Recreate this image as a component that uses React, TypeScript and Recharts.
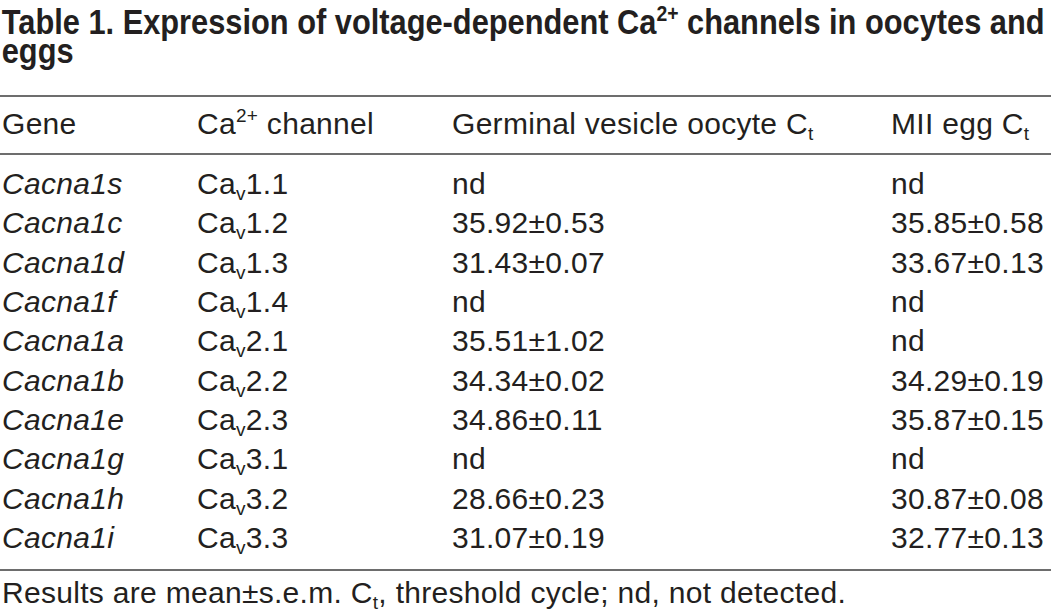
import React from 'react';
import { ScatterChart, Scatter, XAxis, YAxis } from 'recharts';

// table values
const genes = [
  'Cacna1s', 'Cacna1c', 'Cacna1d', 'Cacna1f', 'Cacna1a',
  'Cacna1b', 'Cacna1e', 'Cacna1g', 'Cacna1h', 'Cacna1i',
];
const channels = ['1.1', '1.2', '1.3', '1.4', '2.1', '2.2', '2.3', '3.1', '3.2', '3.3'];
const gvMean = [null, 35.92, 31.43, null, 35.51, 34.34, 34.86, null, 28.66, 31.07];
const gvSem = [null, 0.53, 0.07, null, 1.02, 0.02, 0.11, null, 0.23, 0.19];
const miiMean = [null, 35.85, 33.67, null, null, 34.29, 35.87, null, 30.87, 32.77];
const miiSem = [null, 0.58, 0.13, null, null, 0.19, 0.15, null, 0.08, 0.13];

const W = 1051;
const H = 612;
const COL_X = { gene: 2, channel: 197, gv: 452, mii: 891 };
const FONT = '"Liberation Sans", Arial, Helvetica, sans-serif';
const INK = '#231f20';
const FS = 30;
const SMALL = 19;
const TRACK = 0.3;
const TITLE_FS = 35;
const TITLE_SQUEEZE = 0.88; // title type is condensed

const fmt = (m: number | null, s: number | null) =>
  m == null || s == null ? 'nd' : `${m.toFixed(2)}±${s.toFixed(2)}`;

const geneCells = genes.map((g, i) => ({ x: COL_X.gene, row: i, label: g }));
const channelCells = channels.map((c, i) => ({ x: COL_X.channel, row: i, label: c }));
const gvCells = gvMean.map((m, i) => ({ x: COL_X.gv, row: i, label: fmt(m, gvSem[i]) }));
const miiCells = miiMean.map((m, i) => ({ x: COL_X.mii, row: i, label: fmt(m, miiSem[i]) }));

const textProps = { fontFamily: FONT, fontSize: FS, fill: INK, letterSpacing: TRACK };

const PlainCell = (props: any) => (
  <text x={props.cx} y={props.cy} {...textProps}>{props.payload.label}</text>
);
const GeneCell = (props: any) => (
  <text x={props.cx} y={props.cy} {...textProps} fontStyle="italic">{props.payload.label}</text>
);
const ChannelCell = (props: any) => (
  <text x={props.cx} y={props.cy} {...textProps}>
    Ca<tspan fontSize={SMALL} dy={6}>v</tspan>
    <tspan dy={-6}>{props.payload.label}</tspan>
  </text>
);

const Rule = ({ y }: { y: number }) => (
  <line x1={0} x2={W} y1={y} y2={y} stroke="#3c3c3c" strokeWidth={1.6} />
);

const Frame = () => (
  <svg width={W} height={H} style={{ position: 'absolute', left: 0, top: 0, pointerEvents: 'none' }}>
    <g transform={`scale(${TITLE_SQUEEZE},1)`} fontFamily={FONT} fontSize={TITLE_FS} fontWeight="bold" fill={INK}>
      <text x={2} y={34}>
        Table 1. Expression of voltage-dependent Ca
        <tspan fontSize={22} dy={-13}>2+</tspan>
        <tspan dy={13}> channels in oocytes and</tspan>
      </text>
      <text x={2} y={63}>eggs</text>
    </g>
    <Rule y={96} />
    <text x={COL_X.gene} y={134} {...textProps}>Gene</text>
    <text x={COL_X.channel} y={134} {...textProps}>
      Ca<tspan fontSize={SMALL} dy={-12}>2+</tspan>
      <tspan dy={12}> channel</tspan>
    </text>
    <text x={COL_X.gv} y={134} {...textProps}>
      Germinal vesicle oocyte C<tspan fontSize={SMALL} dy={6}>t</tspan>
    </text>
    <text x={COL_X.mii} y={134} {...textProps}>
      MII egg C<tspan fontSize={SMALL} dy={6}>t</tspan>
    </text>
    <Rule y={154} />
    <Rule y={570} />
    <text x={COL_X.gene} y={603} {...textProps}>
      Results are mean±s.e.m. C<tspan fontSize={SMALL} dy={6}>t</tspan>
      <tspan dy={-6}>, threshold cycle; nd, not detected.</tspan>
    </text>
  </svg>
);

export default function App() {
  return (
    <div style={{ position: 'absolute', left: 0, top: 0, width: W, height: H, overflow: 'hidden', background: '#fff' }}>
      <ScatterChart width={W} height={H} margin={{ top: 194, right: 0, bottom: 64, left: 0 }}>
        <XAxis type="number" dataKey="x" domain={[0, W]} hide />
        <YAxis type="number" dataKey="row" domain={[0, 9]} reversed hide />
        <Scatter data={geneCells} shape={GeneCell} isAnimationActive={false} />
        <Scatter data={channelCells} shape={ChannelCell} isAnimationActive={false} />
        <Scatter data={gvCells} shape={PlainCell} isAnimationActive={false} />
        <Scatter data={miiCells} shape={PlainCell} isAnimationActive={false} />
      </ScatterChart>
      <Frame />
    </div>
  );
}
